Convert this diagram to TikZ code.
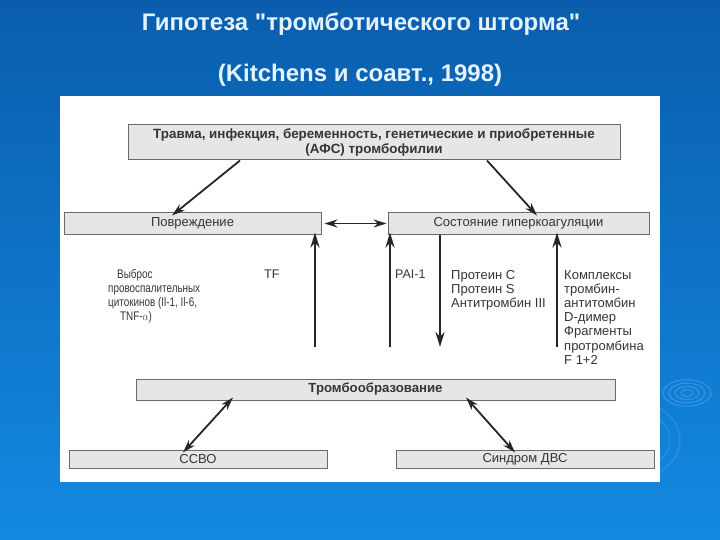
\documentclass[tikz,border=0pt]{standalone}
\usepackage{fontspec}
\setmainfont{Liberation Sans}
\newfontfamily\titlefont{Liberation Sans}[Ligatures=TeXOff]
\usetikzlibrary{arrows.meta}
\definecolor{bgtop}{HTML}{0A5DAC}
\definecolor{bgbot}{HTML}{1389E2}
\definecolor{boxfill}{HTML}{E6E6E6}
\definecolor{boxline}{HTML}{6A6A6A}
\definecolor{txt}{HTML}{353535}
\definecolor{titlec}{HTML}{E2F2FF}
\definecolor{ripple}{HTML}{6EC0FF}
\tikzset{
  gbox/.style={draw=boxline, line width=1pt, fill=boxfill, inner sep=0pt, text=txt, align=center},
  boxfont/.style={font=\fontsize{13}{15}\selectfont},
  small/.style={text=txt, inner sep=0pt, font=\fontsize{13}{14.2}\selectfont},
  arr/.style={-{Stealth[length=13pt,width=8pt]}, line width=1.8pt, draw=black!85},
  darr/.style={{Stealth[length=13pt,width=8pt]}-{Stealth[length=13pt,width=8pt]}, line width=1.8pt, draw=black!85},
  varr/.style={-{Stealth[length=15pt,width=9pt]}, line width=2.6pt, draw=black!85},
  titletxt/.style={text=titlec, inner sep=0pt, anchor=base, font=\titlefont\fontsize{24}{26}\selectfont\bfseries}
}
\begin{document}
\begin{tikzpicture}[x=1pt,y=-1pt]
\useasboundingbox (0,0) rectangle (720,540);
\shade[top color=bgtop, bottom color=bgbot] (0,0) rectangle (720,540);
% ripples
\foreach \r in {6,12,18,24}
  \draw[ripple, opacity=0.35, line width=1.2pt] (687,393) ellipse ({\r pt} and {0.55*\r pt});
\foreach \r in {30,40}
  \draw[ripple, opacity=0.25, line width=1.2pt] (640,440) ellipse ({\r pt} and {0.9*\r pt});
% title
\node[titletxt] (t1) at (361,31) {Гипотеза "тромботического шторма"};
\node[titletxt] (t2) at (360,82) {(Kitchens и соавт., 1998)};
% panel
\fill[white] (60,96) rectangle (660,482);
% boxes
\node[gbox, minimum width=492pt, minimum height=35pt, font=\fontsize{13.4}{15}\selectfont\bfseries] (top) at (374,142.5)
  {Травма, инфекция, беременность, генетические и приобретенные\\(АФС) тромбофилии};
\node[gbox, boxfont, minimum width=257pt, minimum height=21pt] (pov) at (192.5,223.5) {Повреждение};
\node[gbox, boxfont, minimum width=261pt, minimum height=21pt] (sost) at (518.5,223.5) {Состояние гиперкоагуляции};
\node[gbox, minimum width=479pt, minimum height=21pt, font=\fontsize{13.2}{15}\selectfont\bfseries] (thr) at (375.5,389.5) {Тромбообразование};
\node[gbox, boxfont, minimum width=258pt, minimum height=18pt] (ssvo) at (198,459) {ССВО};
\node[gbox, boxfont, minimum width=258pt, minimum height=18pt] (dvs) at (525,459) {Синдром ДВС};
% labels
\node[small, anchor=north west, font=\fontsize{12.5}{13.8}\selectfont] (vyb) at (108,269)
  {\scalebox{0.79}[1]{\begin{tabular}{@{}l@{}}\hspace*{11.4pt}Выброс\\провоспалительных\\цитокинов (Il-1, Il-6,\\\hspace*{15.2pt}TNF-$\alpha$)\end{tabular}}};
\node[small, anchor=north west, font=\fontsize{12.5}{14}\selectfont] (tf) at (264,270) {TF};
\node[small, anchor=north west, font=\fontsize{12.5}{14}\selectfont] (pai) at (395,270) {PAI-1};
\node[small, align=left, anchor=north west] (prot) at (451,270) {Протеин С\\Протеин S\\Антитромбин III};
\node[small, align=left, anchor=north west] (kompl) at (564,270) {Комплексы\\тромбин-\\антитомбин\\D-димер\\Фрагменты\\протромбина\\F 1+2};
% connectors
\draw[arr] ([xshift=-134pt]top.south) -- ([xshift=-20.5pt, yshift=-3pt]pov.north);
\draw[arr] ([xshift=113pt]top.south) -- ([xshift=18.5pt, yshift=-3pt]sost.north);
\draw[darr, shorten <=3pt, shorten >=1pt] (pov.east) -- (sost.west);
\coordinate (tfb) at (315,347);
\coordinate (paib) at (390,347);
\coordinate (protb) at (440,347);
\coordinate (komplb) at (557,347);
\draw[varr] (tfb) -- ([yshift=2pt]tfb |- pov.south);
\draw[varr] (paib) -- ([yshift=2pt]paib |- sost.south);
\draw[varr] (protb |- sost.south) -- (protb);
\draw[varr] (komplb) -- ([yshift=2pt]komplb |- sost.south);
\draw[darr] ([xshift=-142.5pt, yshift=3pt]thr.south) -- ([xshift=-15pt, yshift=-3pt]ssvo.north);
\draw[darr] ([xshift=90.5pt, yshift=3pt]thr.south) -- ([xshift=-10pt, yshift=-3pt]dvs.north);
\end{tikzpicture}
\end{document}
